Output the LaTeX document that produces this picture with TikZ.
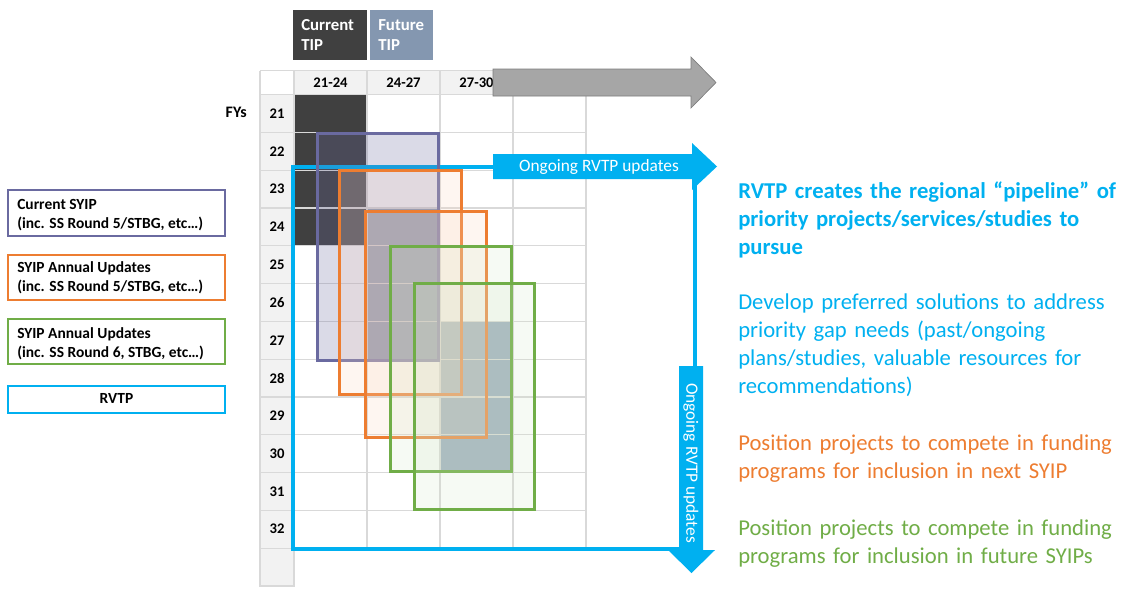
\documentclass[tikz,border=0pt]{standalone}
\usepackage{fontspec}
\setmainfont{Carlito}
\usetikzlibrary{calc}

\definecolor{tipdark}{HTML}{404040}
\definecolor{tipfuture}{HTML}{8497B0}
\definecolor{syip}{HTML}{6A6AA0}
\definecolor{syiporange}{HTML}{ED7D31}
\definecolor{syipgreen}{HTML}{70AD47}
\definecolor{rvtpblue}{HTML}{00B0F0}
\definecolor{gridgray}{HTML}{D9D9D9}
\definecolor{headgray}{HTML}{F2F2F2}
\definecolor{arrowgray}{HTML}{A6A6A6}

\tikzset{
  cellline/.style={draw=gridgray, line width=0.9pt},
  celllabel/.style={font=\bfseries\fontsize{11}{13}\selectfont, inner sep=0pt},
  tiplabel/.style={font=\bfseries\fontsize{12.6}{14.5}\selectfont, text=white, align=left, anchor=base west, inner sep=0pt},
  cursyip/.style={draw=syip, line width=2.25pt, fill=syip, fill opacity=0.25},
  nextsyip/.style={draw=syiporange, line width=2.25pt, fill=syiporange!30, fill opacity=0.22},
  futsyip/.style={draw=syipgreen, line width=2.25pt, fill=syipgreen!30, fill opacity=0.2},
  rvtpline/.style={draw=rvtpblue, line width=3pt},
  legendbox/.style={line width=1.8pt, fill=white},
  legendtext/.style={font=\bfseries\fontsize{11.6}{14.25}\selectfont, align=left, anchor=base west, inner sep=0pt},
  sidetext/.style={font=\fontsize{17}{21}\selectfont, text width=400pt, align=left, anchor=base west, inner sep=0pt},
  updlabel/.style={font=\fontsize{13}{15}\selectfont, text=white, inner sep=0pt}
}

\begin{document}
\begin{tikzpicture}[x=0.75pt,y=-0.75pt]
    \useasboundingbox (0,0) rectangle (1123,590);

    % TIP header boxes
    \fill[tipdark] (293,10) rectangle (367,60);
    \fill[tipfuture] (370,10) rectangle (433,60);
    \node[tiplabel] (curtip) at (301,50) {Current\\TIP};
    \node[tiplabel] (futtip) at (378,50) {Future\\TIP};

    % table fills
    \fill[headgray] (294,70.5) rectangle (586,94.5);
    \fill[headgray] (260,94.5) rectangle (294,586);
    \fill[tipdark] (294,94.5) rectangle (367,245.7);
    \fill[tipfuture] (367,207.9) rectangle (440,359.1);
    \fill[tipfuture!85] (440,321.3) rectangle (513,472.5);

    % table lines
    \foreach \x in {260,294,367,440,513,586}
        \draw[cellline] (\x,70.5) -- (\x,548.1);
    \draw[cellline] (260,70.5) -- (586,70.5);
    \foreach \r in {0,...,12}
        \draw[cellline] (260,94.5+37.8*\r) -- (586,94.5+37.8*\r);
    \draw[cellline] (260,548.1) -- (260,586) -- (294,586) -- (294,548.1);

    % column and row labels
    \node[celllabel] (c1) at (330.5,83) {21-24};
    \node[celllabel] (c2) at (403.5,83) {24-27};
    \node[celllabel] (c3) at (476.5,83) {27-30};
    \foreach \y [count=\r from 0] in {21,...,32}
        \node[celllabel] (fy\y) at (277,113.4+37.8*\r) {\y};
    \node[font=\bfseries\fontsize{12}{14}\selectfont, anchor=east, inner sep=0pt] (fys) at (247,112.5) {FYs};

    % timeline arrow
    \draw[fill=arrowgray, draw=arrowgray!75!black, line width=0.5pt]
        (493,69) -- (691,69) -- (691,57) -- (716,82.5) -- (691,108) -- (691,96) -- (493,96) -- cycle;

    % RVTP frame with its two arrows
    \draw[rvtpline] (493,166.5) -- (292.5,166.5) -- (292.5,548.7) -- (679,548.7);
    \draw[rvtpline] (695,179) -- (695,366);
    \fill[rvtpblue] (493,154) -- (692,154) -- (692,143) -- (717,166.5) -- (692,190) -- (692,179) -- (493,179) -- cycle;
    \fill[rvtpblue] (679,366) -- (703,366) -- (703,550) -- (715,550) -- (691.5,573) -- (668,550) -- (679,550) -- cycle;
    \node[updlabel] (updh) at (599,166.5) {Ongoing RVTP updates};
    \node[updlabel, rotate=-90] (updv) at (691,463) {Ongoing RVTP updates};

    % SYIP windows
    \draw[cursyip] (317,133) rectangle (438,360);
    \draw[nextsyip] (339,170) rectangle (461,394);
    \draw[nextsyip] (365,211) rectangle (486,437);
    \draw[futsyip] (390,246) rectangle (511,471);
    \draw[futsyip] (414,283) rectangle (534,509);

    % legend
    \draw[legendbox, draw=syip] (8,190) rectangle (225,236);
    \node[legendtext] (lgcur) at (17,228) {Current SYIP\\(inc. SS Round 5/STBG, etc…)};
    \draw[legendbox, draw=syiporange] (8,255) rectangle (225,300);
    \node[legendtext] (lgnext) at (17,291.7) {SYIP Annual Updates\\(inc. SS Round 5/STBG, etc…)};
    \draw[legendbox, draw=syipgreen] (8,319) rectangle (225,364);
    \node[legendtext] (lgfut) at (17,357) {SYIP Annual Updates\\(inc. SS Round 6, STBG, etc…)};
    \draw[legendbox, draw=rvtpblue] (8,386) rectangle (225,413);
    \node[font=\bfseries\fontsize{11.6}{14}\selectfont, anchor=base, inner sep=0pt] (lgrvtp) at (116.5,403) {RVTP};

    % side notes
    \node[sidetext, text=rvtpblue, font=\bfseries\fontsize{17}{21}\selectfont] (pipe) at (738,198)
        {RVTP creates the regional “pipeline” of\\priority projects/services/studies to\\pursue};
    \node[sidetext, text=rvtpblue] (dev) at (738,309)
        {Develop preferred solutions to address\\priority gap needs (past/ongoing\\plans/studies, valuable resources for\\recommendations)};
    \node[sidetext, text=syiporange] (nextnote) at (738,450.5)
        {Position projects to compete in funding\\programs for inclusion in next SYIP};
    \node[sidetext, text=syipgreen] (futnote) at (738,535)
        {Position projects to compete in funding\\programs for inclusion in future SYIPs};
\end{tikzpicture}
\end{document}
